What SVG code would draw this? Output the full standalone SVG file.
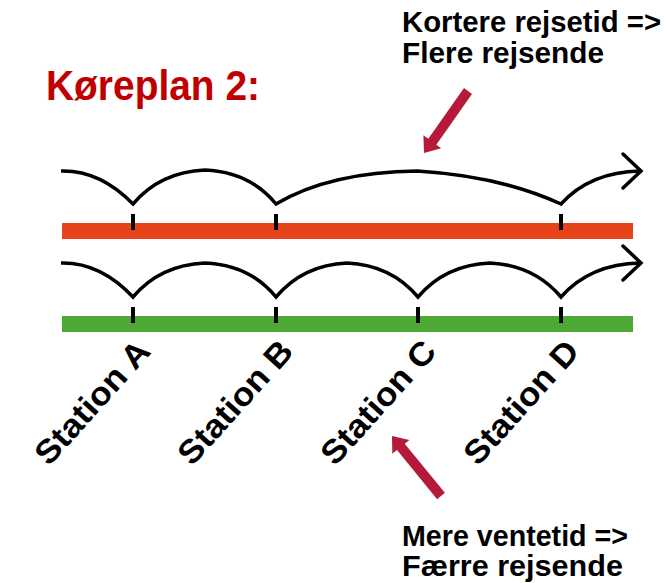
<svg xmlns="http://www.w3.org/2000/svg" width="667" height="583" viewBox="0 0 667 583">
  <style>
    .txt { font-family: "Liberation Sans", Arial, sans-serif; font-weight: bold; fill: #000; }
    .title { font-family: "Liberation Sans", Arial, sans-serif; font-weight: bold; fill: #c00000; font-size: 42px; }
    .st { font-family: "Liberation Sans", Arial, sans-serif; font-weight: bold; fill: #000; font-size: 33px; }
    .route { fill: none; stroke: #000; stroke-width: 3.5; stroke-linejoin: miter; }
    .head { fill: none; stroke: #000; stroke-width: 3.5; stroke-linecap: round; stroke-linejoin: miter; }
    .tick { stroke: #000; stroke-width: 4; }
    .pointer { fill: #b51a3a; }
  </style>
  <rect width="667" height="583" fill="#fff"/>

  <g id="title">
    <text class="title" x="46" y="100" textLength="214" lengthAdjust="spacingAndGlyphs">Køreplan 2:</text>
  </g>

  <g id="note-top">
    <text class="txt" x="402" y="32" font-size="30" textLength="259" lengthAdjust="spacingAndGlyphs">Kortere rejsetid =&gt;</text>
    <text class="txt" x="402" y="63" font-size="30" textLength="202" lengthAdjust="spacingAndGlyphs">Flere rejsende</text>
  </g>

  <g id="note-bottom">
    <text class="txt" x="402" y="546" font-size="29" textLength="226" lengthAdjust="spacingAndGlyphs">Mere ventetid =&gt;</text>
    <text class="txt" x="402" y="576" font-size="29" textLength="221" lengthAdjust="spacingAndGlyphs">Færre rejsende</text>
  </g>

  <g id="line-red">
    <rect x="62" y="223" width="571" height="16" fill="#e6431a"/>
    <line class="tick" x1="133" y1="214" x2="133" y2="230"/>
    <line class="tick" x1="276" y1="214" x2="276" y2="230"/>
    <line class="tick" x1="561" y1="214" x2="561" y2="230"/>
  </g>

  <g id="line-green">
    <rect x="62" y="316" width="571" height="16" fill="#4caa34"/>
    <line class="tick" x1="133" y1="307" x2="133" y2="323"/>
    <line class="tick" x1="276" y1="307" x2="276" y2="323"/>
    <line class="tick" x1="418" y1="307" x2="418" y2="323"/>
    <line class="tick" x1="561" y1="307" x2="561" y2="323"/>
  </g>

  <g id="stations">
    <text class="st" transform="translate(49,467) rotate(-48)" textLength="154" lengthAdjust="spacingAndGlyphs">Station A</text>
    <text class="st" transform="translate(192,467) rotate(-48)" textLength="154" lengthAdjust="spacingAndGlyphs">Station B</text>
    <text class="st" transform="translate(335,467) rotate(-48)" textLength="154" lengthAdjust="spacingAndGlyphs">Station C</text>
    <text class="st" transform="translate(478,467) rotate(-48)" textLength="154" lengthAdjust="spacingAndGlyphs">Station D</text>
  </g>

  <g id="connectors">
    <path class="route" d="M61,171 Q100,170 133,204 Q160,172 205,170 Q250,172 276,204 Q330,172 417,171 Q500,176 561,204 Q590,172 640,171"/>
    <polyline class="head" points="623,154 641,171 623,188"/>
    <path class="route" d="M61,263 Q100,262 133,297 Q160,265 205,263 Q250,265 276,297 Q303,265 347,263 Q391,265 418,297 Q445,265 490,263 Q534,265 561,297 Q590,264 640,263"/>
    <polyline class="head" points="623,246 641,263 623,280"/>
    <polygon class="pointer" points="464,88 472,94 436.3,144.7 441.2,148.2 424,153 423.4,135.2 428.3,138.8"/>
    <polygon class="pointer" points="437.1,499.2 444.9,492.8 404.7,443.7 409.4,439.9 392,436 392.3,453.8 397,450"/>
  </g>
</svg>
